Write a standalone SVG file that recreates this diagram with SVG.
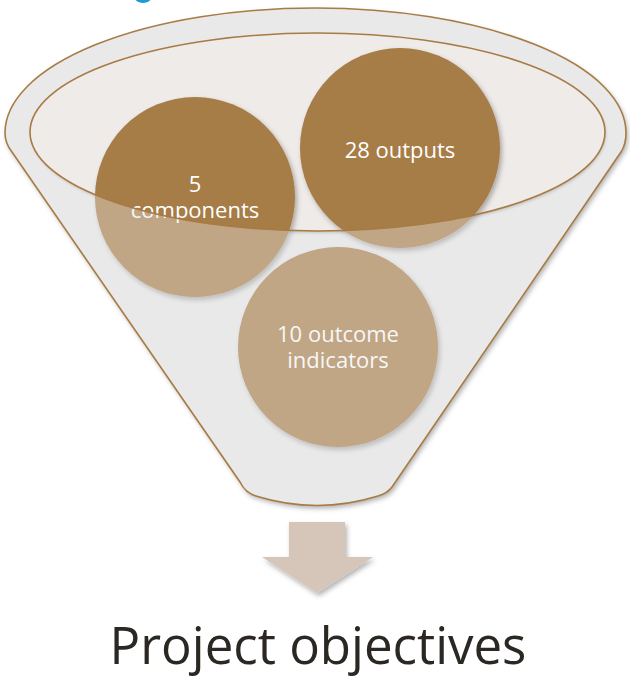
<svg xmlns="http://www.w3.org/2000/svg" width="630" height="677" viewBox="0 0 630 677">
<defs>
<style>
.lbl{font-family:"Open Sans","Liberation Sans",sans-serif;fill:#ffffff;text-anchor:middle;font-size:22px}
.circ{fill:#a67b47;filter:url(#sh)}
.edge{fill:none;stroke:#a87a44;stroke-width:1.6}
</style>
<filter id="sh" x="-20%" y="-20%" width="140%" height="140%">
<feDropShadow dx="2" dy="3" stdDeviation="2.5" flood-color="#000" flood-opacity="0.3"/>
</filter>
<filter id="shs" x="-20%" y="-20%" width="140%" height="140%">
<feDropShadow dx="1" dy="2" stdDeviation="1.5" flood-color="#000" flood-opacity="0.25"/>
</filter>
</defs>
<rect width="630" height="677" fill="#ffffff"/>
<ellipse cx="143" cy="-2" rx="8" ry="5" fill="#1b9ad6"/>
<g id="funnel">
<path d="M5,133 C5,141 8,147 12,152 L240,482 C244,490 249,494 256,496 Q317,515 378,496 C385,494 389,491 392,487 L621,152 C625,146 626,140 626,133 A310.5,125 0 0 0 5,133 Z" fill="#e9e9e9" filter="url(#sh)"/>
<ellipse cx="317.5" cy="132" rx="287.5" ry="99" fill="#efebe8" filter="url(#shs)"/>
</g>
<g id="n-components" class="node"><circle class="circ" cx="195" cy="197" r="100"/></g>
<g id="n-outputs" class="node"><circle class="circ" cx="400" cy="148" r="100"/></g>
<g id="n-indicators" class="node"><circle class="circ" cx="338" cy="347" r="100"/></g>
<g id="labels">
<text class="lbl" x="195" y="192">5</text>
<text class="lbl" x="195" y="218">components</text>
<text class="lbl" x="400" y="158">28 outputs</text>
<text class="lbl" x="338" y="342">10 outcome</text>
<text class="lbl" x="338" y="368">indicators</text>
</g>
<g id="overlay">
<path d="M5,133 C5,141 8,147 12,152 L240,482 C244,490 249,494 256,496 Q317,515 378,496 C385,494 389,491 392,487 L621,152 C625,146 626,140 626,133 A310.5,125 0 0 0 5,133 Z M30,132 A287.5,99 0 0 0 605,132 A287.5,99 0 0 0 30,132 Z" fill="#e9e9e9" fill-opacity="0.38" fill-rule="evenodd"/>
</g>
<g id="connectors">
<path class="edge" d="M5,133 C5,141 8,147 12,152 L240,482 C244,490 249,494 256,496 Q317,515 378,496 C385,494 389,491 392,487 L621,152 C625,146 626,140 626,133 A310.5,125 0 0 0 5,133 Z"/>
<ellipse class="edge" cx="317.5" cy="132" rx="287.5" ry="99"/>
</g>
<g id="arrow">
<path d="M289,522 L345,522 L345,557 L373,557 L317,593 L262,557 L289,557 Z" fill="#d6c5b9" filter="url(#sh)"/>
</g>
<g id="n-objectives">
<text x="318" y="664" font-family="'Open Sans','Liberation Sans',sans-serif" font-size="51" fill="#2b2722" text-anchor="middle">Project objectives</text>
</g>
</svg>
